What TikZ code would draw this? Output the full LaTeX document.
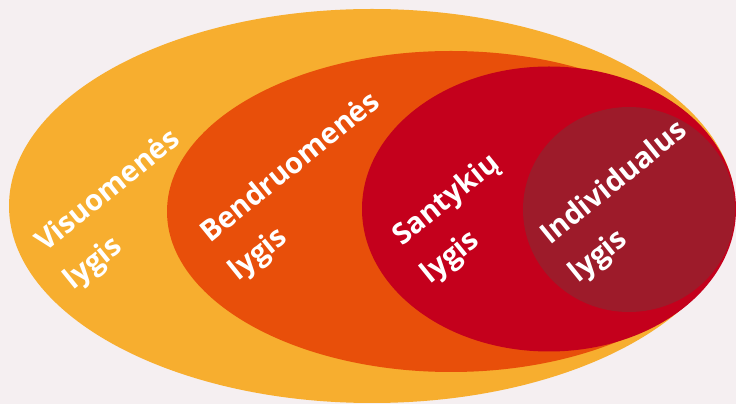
\documentclass[tikz,border=0pt]{standalone}
\usepackage{fontspec}
\setmainfont{Open Sans}
\usetikzlibrary{calc}
\definecolor{bgc}{HTML}{F5EFF1}
\definecolor{c1}{HTML}{F7AE2F}
\definecolor{c2}{HTML}{E84F0A}
\definecolor{c3}{HTML}{C4001C}
\definecolor{c4}{HTML}{9D1B2A}
\tikzset{
  lbl/.style={text=white, font=\bfseries\fontsize{29}{34}\selectfont, inner sep=0pt, anchor=base west, rotate=39},
}
\begin{document}
\begin{tikzpicture}[x=1pt,y=1pt]
\fill[bgc] (0,0) rectangle (736,404);
\useasboundingbox (0,0) rectangle (736,404);
\begin{scope}
\clip (0,0) rectangle (736,404);
\fill[c1] (372,198) ellipse [x radius=363, y radius=197];
\fill[c2] (451,192.5) ellipse [x radius=284, y radius=160.5];
\fill[c3] (549,195) ellipse [x radius=187, y radius=142.5];
\fill[c4] (629,194.5) ellipse [x radius=106, y radius=102.5];
\end{scope}
\node[lbl] (v1) at (45,151) {Visuomenės};
\node[lbl] (v2) at ($(v1.base west)+(-53:47)$) {lygis};
\node[lbl] (b1) at (210,160) {Bendruomenės};
\node[lbl] (b2) at ($(b1.base west)+(-53:47)$) {lygis};
\node[lbl] (s1) at (402,157) {Santykių};
\node[lbl] (s2) at ($(s1.base west)+(-53:47)$) {lygis};
\node[lbl] (i1) at (550,158) {Individualus};
\node[lbl] (i2) at ($(i1.base west)+(-53:47)$) {lygis};
\end{tikzpicture}
\end{document}
